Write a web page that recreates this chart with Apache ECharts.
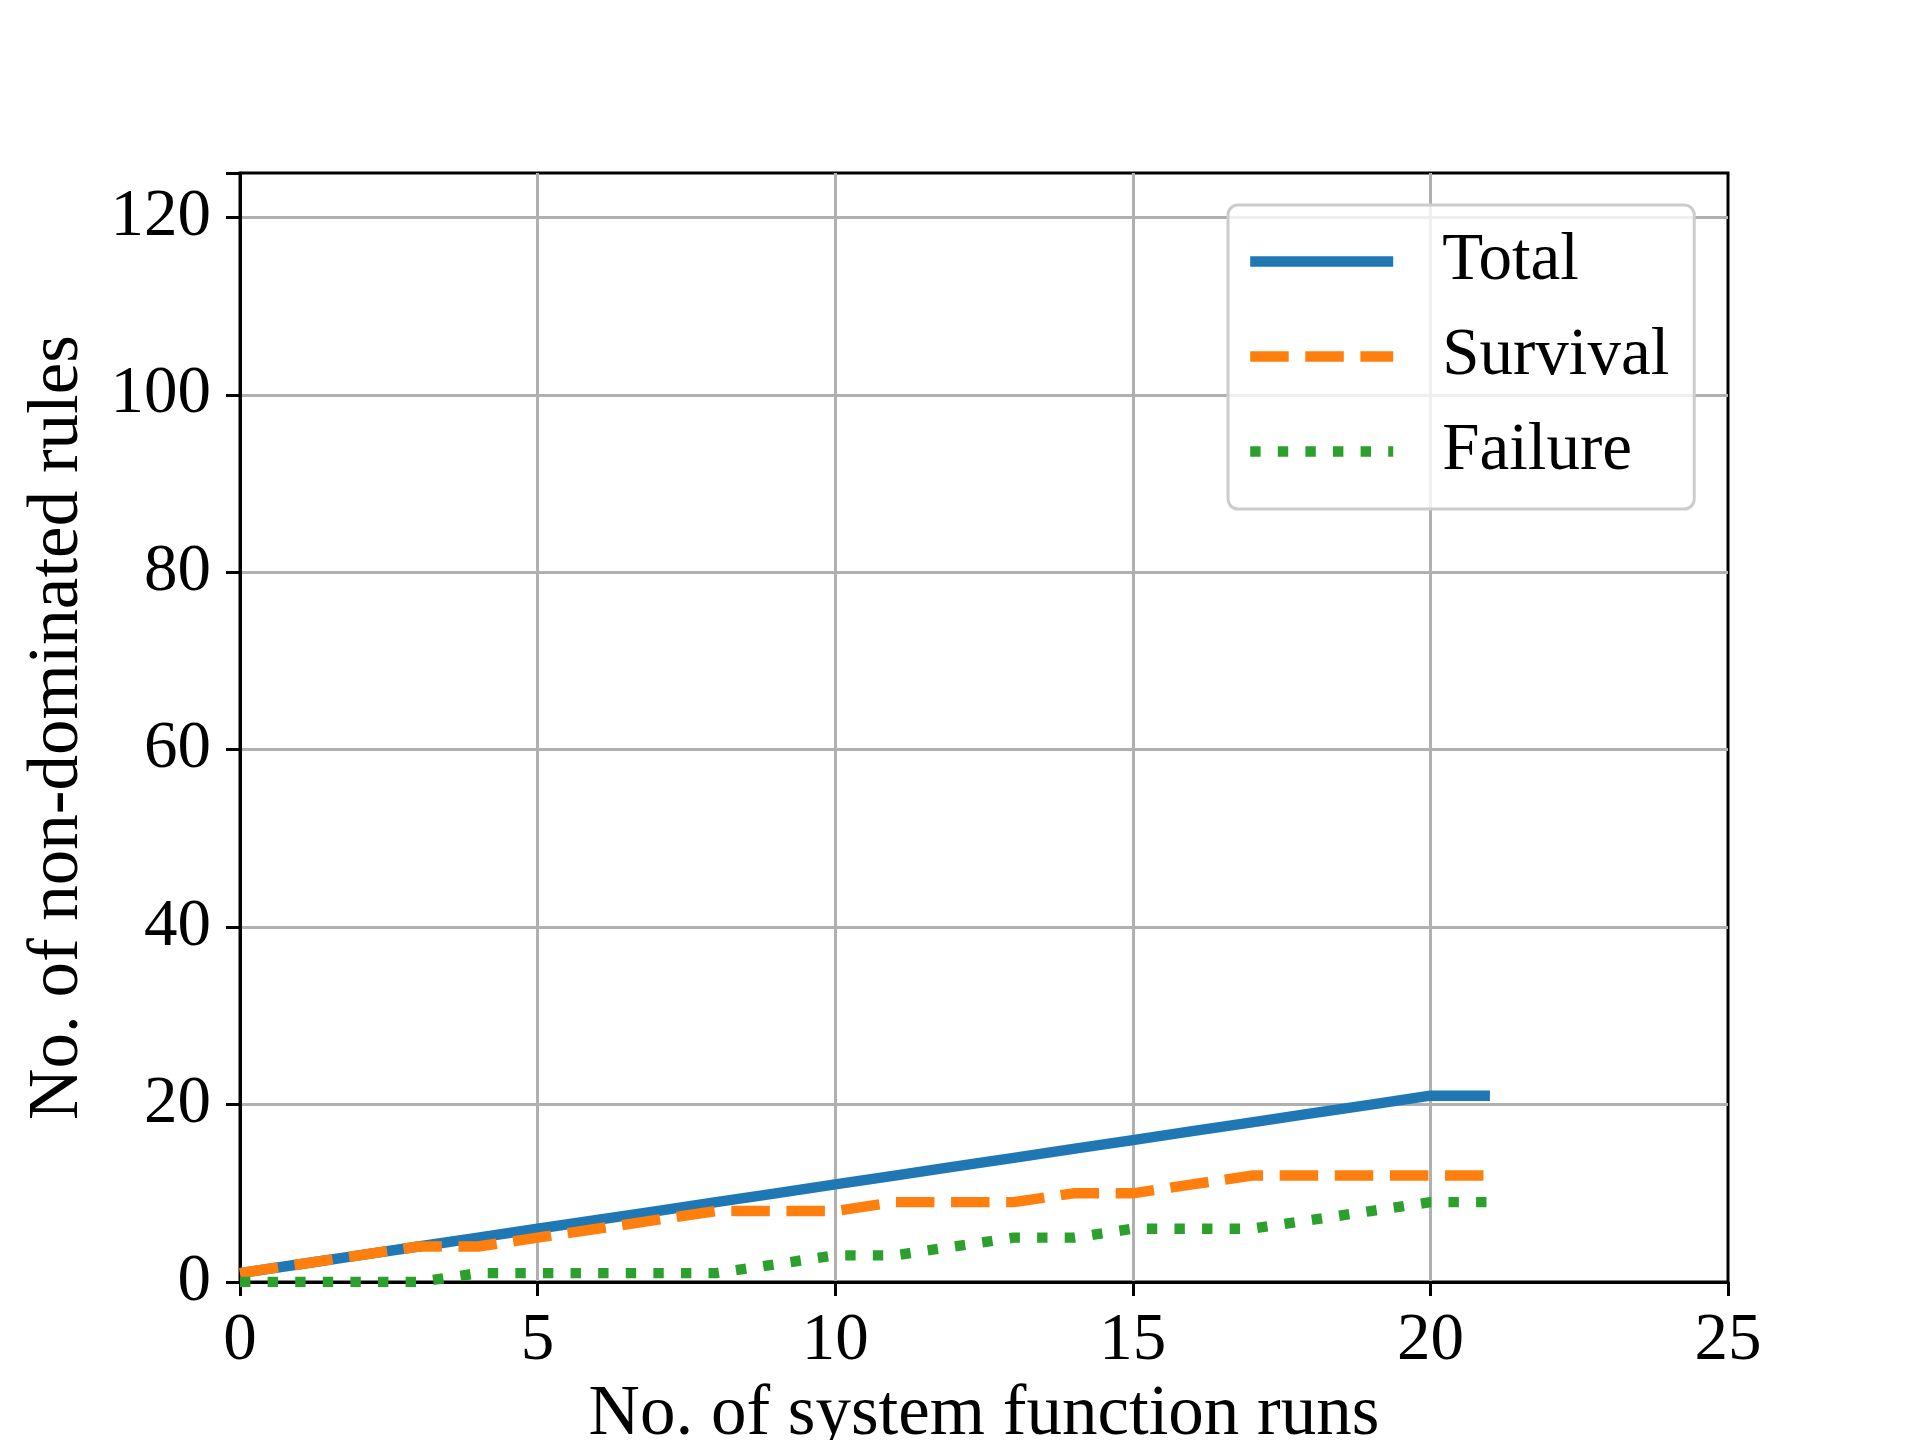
<!DOCTYPE html>
<html>
<head>
<meta charset="utf-8">
<script src="https://cdn.jsdelivr.net/npm/echarts@6/dist/echarts.min.js"></script>
<style>
html,body{margin:0;padding:0;background:#fff;}
#chart{width:1920px;height:1440px;}
</style>
</head>
<body>
<div id="chart"></div>
<script>
const runs = [0,1,2,3,4,5,6,7,8,9,10,11,12,13,14,15,16,17,18,19,20,21];
const totalRules = [1,2,3,4,5,6,7,8,9,10,11,12,13,14,15,16,17,18,19,20,21,21];
const survivalRules = [1,2,3,4,4,5,6,7,8,8,8,9,9,9,10,10,11,12,12,12,12,12];
const failureRules = [0,0,0,0,1,1,1,1,1,2,3,3,4,5,5,6,6,6,7,8,9,9];
const xTicks = [0,5,10,15,20,25];
const yTicks = [0,20,40,60,80,100,120];
const seriesNames = ['Total','Survival','Failure'];

const FONT = "'Liberation Serif','Times New Roman',serif";
const pairs = arr => runs.map((x,i)=>[x, arr[i]]);
const LW = 10.4;

const chart = echarts.init(document.getElementById('chart'), null, {renderer:'canvas'});
chart.setOption({
  animation:false,
  backgroundColor:'#ffffff',
  grid:{left:240, top:173, width:1488, height:1109, show:true, borderColor:'#000', borderWidth:3,
    backgroundColor:'transparent', containLabel:false, outerBoundsMode:'none'},
  xAxis:{
    type:'value', min:0, max:25, interval:5,
    name:'No. of system function runs', nameLocation:'middle', nameGap:96,
    nameTextStyle:{fontFamily:FONT, fontSize:71, color:'#000'},
    axisLine:{show:true, lineStyle:{color:'#000', width:3}},
    axisTick:{show:true, inside:false, length:14, lineStyle:{color:'#000', width:3}},
    axisLabel:{fontFamily:FONT, fontSize:67, color:'#000', margin:26,
      formatter:v=> xTicks.indexOf(v)>=0 ? String(v) : ''},
    splitLine:{show:true, showMinLine:false, showMaxLine:false, lineStyle:{color:'#b0b0b0', width:3}}
  },
  yAxis:{
    type:'value', min:0, max:125, interval:20,
    name:'No. of non-dominated rules', nameLocation:'middle', nameGap:146,
    nameTextStyle:{fontFamily:FONT, fontSize:71, color:'#000'},
    axisLine:{show:true, lineStyle:{color:'#000', width:3}},
    axisTick:{show:true, inside:false, length:14, lineStyle:{color:'#000', width:3}},
    axisLabel:{fontFamily:FONT, fontSize:67, color:'#000', margin:29,
      formatter:v=> yTicks.indexOf(v)>=0 ? String(v) : ''},
    splitLine:{show:true, showMinLine:false, showMaxLine:false, lineStyle:{color:'#b0b0b0', width:3}}
  },
  legend:{
    orient:'vertical', left:1228, top:205,
    data:seriesNames,
    itemWidth:143, itemHeight:14, itemGap:28,
    backgroundColor:'rgba(255,255,255,0.8)',
    borderColor:'#cccccc', borderWidth:3, borderRadius:10,
    padding:[23,25,24,17],
    itemStyle:{opacity:0},
    lineStyle:{width:LW},
    textStyle:{fontFamily:FONT, fontSize:67, color:'#000', lineHeight:67, padding:[0,0,0,44]}
  },
  series:[
    {name:seriesNames[0], type:'line', data:pairs(totalRules), symbol:'none', showSymbol:false,
      lineStyle:{color:'#1f77b4', width:LW, cap:'butt', join:'round'}, itemStyle:{color:'#1f77b4'}, z:3},
    {name:seriesNames[1], type:'line', data:pairs(survivalRules), symbol:'none', showSymbol:false,
      lineStyle:{color:'#ff7f0e', width:LW, type:[38.5,16.6], cap:'butt', join:'round'}, itemStyle:{color:'#ff7f0e'}, z:4},
    {name:seriesNames[2], type:'line', data:pairs(failureRules), symbol:'none', showSymbol:false,
      lineStyle:{color:'#2ca02c', width:LW, type:[10.4,17.2], cap:'butt', join:'round'}, itemStyle:{color:'#2ca02c'}, z:5}
  ]
});
</script>
</body>
</html>
